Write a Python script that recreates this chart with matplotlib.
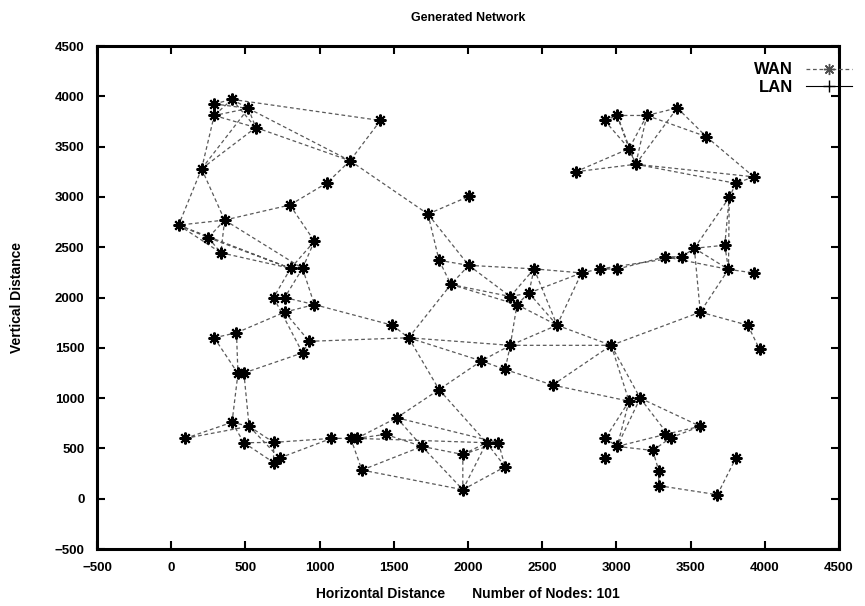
import numpy as np
import matplotlib
matplotlib.use("Agg")
import matplotlib.pyplot as plt
from matplotlib.lines import Line2D

# ---- data ----
node_x = [290, 410, 520, 290, 570, 205, 800, 360, 1410, 1205,
          1050, 1730, 2005, 2920, 3005, 3205, 3085, 3130, 2725, 3410,
          3605, 3925, 3805, 3760, 50, 250, 335, 805, 885, 965,
          690, 765, 765, 965, 440, 290, 450, 490, 930, 885,
          1490, 1600, 1805, 2005, 1885, 2445, 2765, 2890, 3005, 2285,
          2410, 2330, 2600, 2285, 2965, 2090, 2250, 3330, 3440, 3525,
          3730, 3755, 3925, 3565, 3885, 3965, 95, 410, 525, 490,
          690, 690, 730, 1080, 1210, 1250, 1445, 1520, 1805, 1285,
          1690, 1965, 1965, 2570, 3085, 3160, 2125, 2205, 2250, 2925,
          3005, 2925, 3565, 3330, 3365, 3245, 3285, 3285, 3680, 3805]
node_y = [3925, 3970, 3880, 3810, 3690, 3280, 2920, 2770, 3760, 3360,
          3140, 2830, 3005, 3760, 3810, 3810, 3480, 3325, 3250, 3885,
          3600, 3200, 3135, 2995, 2720, 2595, 2445, 2290, 2290, 2560,
          2000, 2000, 1855, 1930, 1650, 1600, 1245, 1250, 1565, 1450,
          1725, 1600, 2370, 2320, 2130, 2285, 2245, 2285, 2283, 2010,
          2045, 1930, 1725, 1525, 1525, 1370, 1285, 2405, 2405, 2490,
          2520, 2280, 2245, 1855, 1725, 1485, 600, 760, 720, 557,
          560, 360, 405, 600, 600, 600, 640, 805, 1085, 285,
          520, 440, 90, 1130, 970, 1000, 557, 557, 318, 600,
          520, 405, 720, 640, 605, 480, 280, 130, 40, 405]

edges = [(0, 1), (0, 2), (0, 3), (1, 2), (1, 3), (2, 3), (2, 4), (3, 4), (1, 4),
         (5, 3), (5, 2), (5, 4), (1, 8), (2, 9), (4, 9), (8, 9), (9, 10), (10, 6),
         (9, 11), (11, 12), (11, 42), (11, 43), (42, 43), (43, 44), (42, 44),
         (5, 7), (5, 24), (7, 6), (7, 24), (24, 25), (24, 26), (7, 25), (7, 26),
         (25, 26), (24, 27), (25, 27), (26, 27), (7, 28), (6, 29), (29, 28),
         (29, 27), (27, 28), (28, 33), (31, 33), (32, 33), (30, 31), (27, 30),
         (28, 31), (34, 32), (35, 34), (35, 36), (34, 36), (37, 39), (32, 38),
         (30, 39), (38, 39), (33, 40), (40, 41), (38, 41), (41, 44), (41, 53),
         (41, 78), (41, 55), (55, 78), (44, 49), (43, 49), (44, 51), (43, 45),
         (49, 51), (49, 50), (50, 51), (45, 49), (45, 50), (45, 52), (50, 52),
         (51, 52), (52, 46), (52, 54), (52, 53), (45, 46), (50, 46), (46, 47),
         (47, 48), (48, 57), (47, 58), (57, 58), (58, 59), (59, 60), (59, 61),
         (60, 61), (57, 61), (59, 63), (61, 63), (61, 62), (63, 64), (64, 65),
         (63, 54), (59, 23), (60, 23), (61, 23), (22, 23), (21, 22), (20, 21),
         (19, 20), (15, 19), (15, 20), (13, 14), (14, 15), (13, 16), (14, 16),
         (15, 16), (14, 17), (15, 17), (16, 17), (18, 16), (18, 17), (17, 21),
         (17, 22), (17, 19), (53, 55), (53, 56), (55, 56), (53, 54), (53, 51),
         (56, 83), (83, 54), (83, 84), (54, 84), (54, 85), (84, 85), (84, 89),
         (84, 90), (85, 90), (89, 90), (85, 92), (85, 94), (90, 93), (90, 95),
         (93, 94), (93, 92), (94, 92), (95, 94), (95, 96), (96, 97), (97, 98),
         (98, 99), (36, 67), (37, 68), (66, 67), (66, 68), (67, 68), (67, 69),
         (68, 70), (69, 70), (68, 72), (69, 71), (70, 71), (71, 72), (70, 73),
         (72, 73), (73, 74), (74, 75), (74, 79), (75, 77), (75, 76), (76, 80),
         (77, 80), (77, 78), (79, 80), (79, 82), (80, 81), (80, 82), (81, 82),
         (75, 86), (77, 87), (78, 86), (81, 86), (81, 87), (82, 86), (82, 88),
         (86, 88), (87, 88), (86, 87)]

x_ticks = [-500, 0, 500, 1000, 1500, 2000, 2500, 3000, 3500, 4000, 4500]
y_ticks = [-500, 0, 500, 1000, 1500, 2000, 2500, 3000, 3500, 4000, 4500]

# ---- figure ----
FONT = ['Liberation Sans', 'DejaVu Sans']
plt.rcParams['font.family'] = FONT
plt.rcParams['font.weight'] = 'bold'

fig = plt.figure(figsize=(8.65, 6.06), dpi=100)
ax = fig.add_axes([0.1121, 0.094, 0.8579, 0.830])

ex, ey = [], []
for i, j in edges:
    ex += [node_x[i], node_x[j], np.nan]
    ey += [node_y[i], node_y[j], np.nan]
ax.plot(ex, ey, linestyle=(0, (3.0, 2.2)), color='0.35', lw=0.9, zorder=2)

ax.plot(node_x, node_y, linestyle='none', marker=(8, 2, 0), markersize=8.5,
        markeredgewidth=1.5, color='black', zorder=3)

ax.set_xlim(-500, 4500)
ax.set_ylim(-500, 4500)
ax.set_xticks(x_ticks)
ax.set_yticks(y_ticks)
ax.tick_params(direction='in', length=6, width=1.5, top=True, right=True,
               labelsize=9.5, pad=9)
for lab in ax.get_xticklabels() + ax.get_yticklabels():
    lab.set_fontweight('bold')
for s in ax.spines.values():
    s.set_linewidth(2.2)

ax.set_title('Generated Network', fontsize=9, fontweight='bold', pad=18)
ax.set_xlabel('Horizontal Distance       Number of Nodes: 101', fontsize=10,
              fontweight='bold', labelpad=10)
ax.set_ylabel('Vertical Distance', fontsize=10, fontweight='bold', labelpad=22)

# legend (gnuplot style, right-aligned text, sample line beyond axes)
fig.text(793 / 865, 1 - 70 / 606, 'WAN', ha='right', va='center',
         fontsize=12, fontweight='bold')
fig.text(793 / 865, 1 - 87 / 606, 'LAN', ha='right', va='center',
         fontsize=12, fontweight='bold')
fig.add_artist(Line2D([806 / 865, 852 / 865], [1 - 69 / 606, 1 - 69 / 606],
                      transform=fig.transFigure, linestyle=(0, (3.0, 2.2)),
                      color='0.35', lw=0.9))
fig.add_artist(Line2D([829 / 865], [1 - 69 / 606], transform=fig.transFigure,
                      linestyle='none', marker=(8, 2, 0), markersize=8,
                      markeredgewidth=1.0, color='0.3'))
fig.add_artist(Line2D([806 / 865, 852 / 865], [1 - 86 / 606, 1 - 86 / 606],
                      transform=fig.transFigure, linestyle='-',
                      color='black', lw=0.8))
fig.add_artist(Line2D([829 / 865], [1 - 86 / 606], transform=fig.transFigure,
                      linestyle='none', marker='+', markersize=8,
                      markeredgewidth=1.0, color='black'))

fig.savefig('out.png', dpi=100)
